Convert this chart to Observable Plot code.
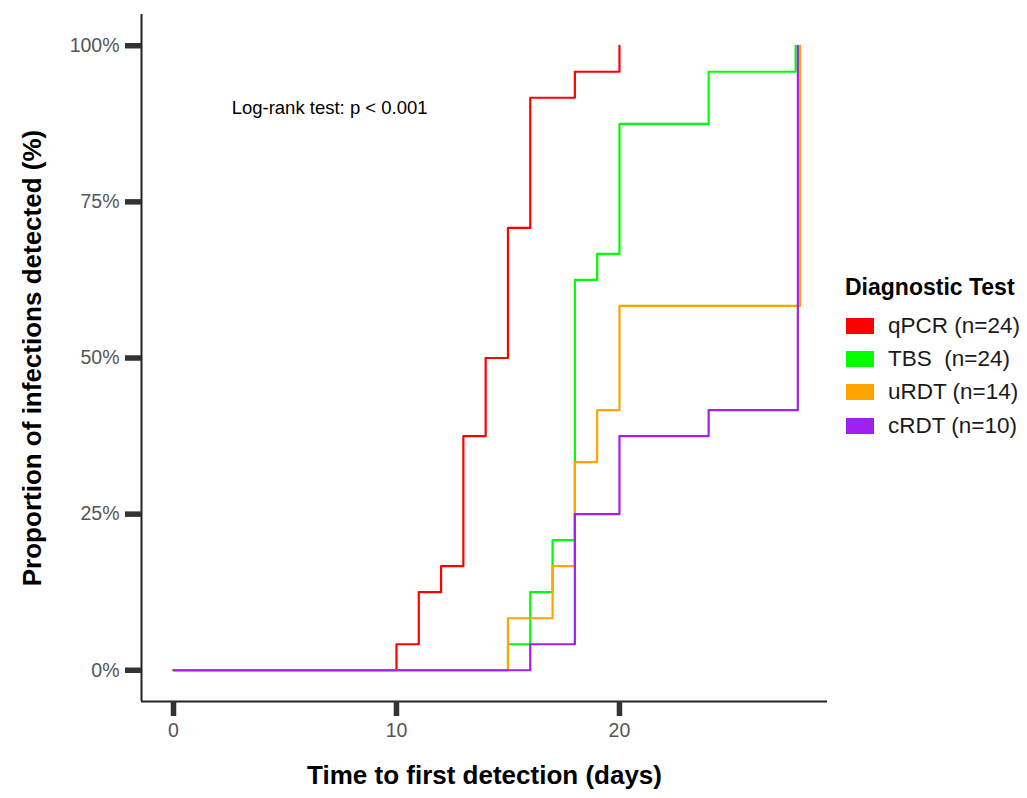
<!DOCTYPE html>
<html>
<head>
<meta charset="utf-8">
<script src="https://cdn.jsdelivr.net/npm/d3@7"></script>
<script src="https://cdn.jsdelivr.net/npm/@observablehq/plot@0.6"></script>
<style>
  body { margin: 0; background: #fff; font-family: "Liberation Sans", Arial, Helvetica, sans-serif; }
  #wrap { position: relative; width: 1027px; height: 798px; overflow: hidden; }
  #legend { position: absolute; left: 845px; top: 273px; }
  #legend .title { font-weight: bold; font-size: 23px; color: #000; line-height: 28px; margin-bottom: 8px; }
  #legend .row { display: flex; align-items: center; height: 33.4px; }
  #legend .sw { width: 28px; height: 16px; margin-left: 1px; margin-right: 14px; }
  #legend .lab { font-size: 22.5px; color: #1a1a1a; white-space: pre; }
</style>
</head>
<body>
<div id="wrap"><div id="legend"></div></div>
<script>
// ---- Data ----
const tests  = ["qPCR (n=24)", "TBS  (n=24)", "uRDT (n=14)", "cRDT (n=10)"];
const colors = ["#FF0000", "#00FF00", "#FFA500", "#A020F0"];

const qpcrDays = [0, 10, 11, 12, 13, 14, 15, 16, 18, 20];
const qpcrProp = [0, 1/24, 3/24, 4/24, 9/24, 12/24, 17/24, 22/24, 23/24, 1];

const tbsDays  = [0, 15, 16, 17, 18, 19, 20, 24, 27.9];
const tbsProp  = [0, 1/24, 3/24, 5/24, 15/24, 16/24, 21/24, 23/24, 1];

const urdtDays = [0, 15, 17, 18, 19, 20, 28.1];
const urdtProp = [0, 1/12, 2/12, 4/12, 5/12, 7/12, 1];

const crdtDays = [0, 16, 18, 20, 24, 28];
const crdtProp = [0, 1/24, 6/24, 9/24, 10/24, 1];

const xTicks = [0, 10, 20];
const yTicks = [0, 0.25, 0.5, 0.75, 1];
const xDomain = [-1.435, 29.33];
const yDomain = [-0.05, 1.05];

const annotation = "Log-rank test: p < 0.001";
const annX = 7.0, annY = 0.9;
const xTitle = "Time to first detection (days)";
const yTitle = "Proportion of infections detected (%)";

// ---- Build table ----
const seriesDays = [qpcrDays, tbsDays, urdtDays, crdtDays];
const seriesProp = [qpcrProp, tbsProp, urdtProp, crdtProp];
const rows = [];
tests.forEach((t, i) => {
  seriesDays[i].forEach((d, j) => rows.push({test: t, day: d, prop: seriesProp[i][j]}));
});

const chart = Plot.plot({
  width: 1027,
  height: 798,
  marginLeft: 141,
  marginRight: 200,
  marginTop: 14,
  marginBottom: 97,
  style: {fontFamily: '"Liberation Sans", Arial, Helvetica, sans-serif', background: "#fff"},
  x: {domain: xDomain, axis: null},
  y: {domain: yDomain, axis: null},
  color: {domain: tests, range: colors},
  marks: [
    Plot.ruleX([xDomain[0]], {stroke: "#222", strokeWidth: 2}),
    Plot.ruleY([yDomain[0]], {stroke: "#222", strokeWidth: 2}),
    Plot.axisX({ticks: xTicks, tickSize: 15, strokeWidth: 5.5, stroke: "#333", tickFormat: () => "", label: null}),
    Plot.axisX({ticks: xTicks, tickSize: 15, tickPadding: 7, strokeOpacity: 0, fill: "#555", fontSize: 19.5, tickFormat: d => String(d), label: null}),
    Plot.axisY({ticks: yTicks, tickSize: 16, strokeWidth: 5.5, stroke: "#333", tickFormat: () => "", label: null}),
    Plot.axisY({ticks: yTicks, tickSize: 16, tickPadding: 6, strokeOpacity: 0, fill: "#555", fontSize: 19.5, tickFormat: d => Math.round(d * 100) + "%", label: null}),
    Plot.line(rows, {x: "day", y: "prop", z: "test", stroke: "test", curve: "step-after", strokeWidth: 2.2}),
    Plot.text([annotation], {x: annX, y: annY, text: d => d, fontSize: 18.5, fill: "#000"}),
    Plot.text([xTitle], {frameAnchor: "bottom", dy: 82, text: d => d, fontSize: 26, fontWeight: "bold", fill: "#000"}),
    Plot.text([yTitle], {frameAnchor: "left", textAnchor: "middle", dx: -109, rotate: -90, text: d => d, fontSize: 26, fontWeight: "bold", fill: "#000"})
  ]
});
document.getElementById("wrap").prepend(chart);

// ---- Legend ----
const legend = d3.select("#legend");
legend.append("div").attr("class", "title").text("Diagnostic Test");
tests.forEach((t, i) => {
  const r = legend.append("div").attr("class", "row");
  r.append("div").attr("class", "sw").style("background", colors[i]);
  r.append("div").attr("class", "lab").text(t);
});
</script>
</body>
</html>
